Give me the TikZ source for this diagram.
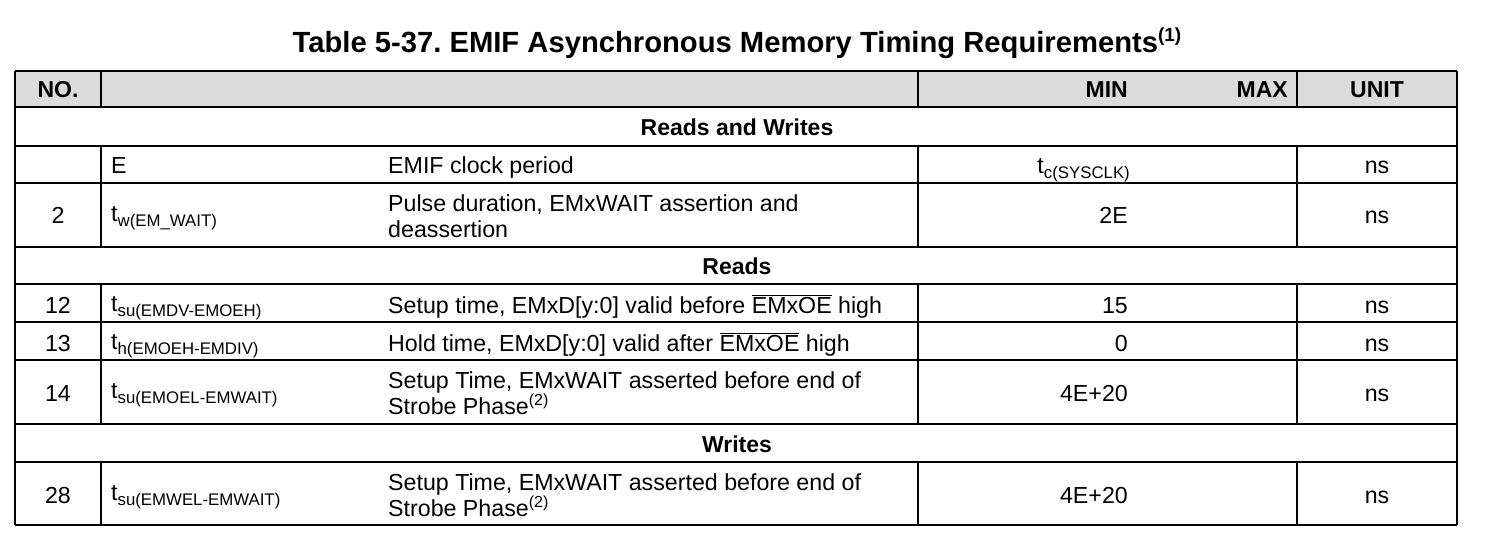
\documentclass[tikz,border=0pt]{standalone}
\usepackage{fontspec}
\setmainfont{Liberation Sans}
\frenchspacing
\newcommand{\lowsub}[1]{\raisebox{-5pt}{\fontsize{16.8}{19}\selectfont #1}}
\newcommand{\upnote}[1]{\raisebox{9pt}{\fontsize{16}{18}\selectfont #1}}
\begin{document}
\begin{tikzpicture}[x=1pt,y=-1pt,
  rule/.style={line width=1.4pt},
  cell/.style={inner sep=0pt,font=\fontsize{23.2}{27}\selectfont},
  head/.style={inner sep=0pt,font=\fontsize{23}{27}\selectfont\bfseries}]
\useasboundingbox (0,0) rectangle (1487,536);
\fill[gray!28] (15,71) rectangle (1457,107);
  \node[inner sep=0pt,anchor=base,font=\fontsize{29.2}{34}\selectfont\bfseries] (title) at (737,52)
    {Table 5-37. EMIF Asynchronous Memory Timing Requirements\raisebox{11pt}{\fontsize{19}{21}\selectfont (1)}};
  % rules
  \draw[rule] (15,71)--(1457,71) (15,107)--(1457,107) (15,146)--(1457,146) (15,183)--(1457,183);
  \draw[rule] (15,247)--(1457,247) (15,284)--(1457,284) (15,322)--(1457,322) (15,360)--(1457,360);
  \draw[rule] (15,424)--(1457,424) (15,462)--(1457,462) (15,525)--(1457,525);
  \draw[rule] (15,71)--(15,525) (1457,71)--(1457,525);
  \draw[rule] (101,71)--(101,107) (101,146)--(101,247) (101,284)--(101,424) (101,462)--(101,525);
  \draw[rule] (918,71)--(918,107) (918,146)--(918,247) (918,284)--(918,424) (918,462)--(918,525);
  \draw[rule] (1297,71)--(1297,107) (1297,146)--(1297,247) (1297,284)--(1297,424) (1297,462)--(1297,525);
  % header
  \node[head,anchor=base] (hno) at (58,97) {NO.};
  \node[head,anchor=base east] (hmin) at (1128,97) {MIN};
  \node[head,anchor=base east] (hmax) at (1288,97) {MAX};
  \node[head,anchor=base] (hunit) at (1377,97) {UNIT};
  % reads and writes
  \node[head,anchor=base] (grw) at (737,135) {Reads and Writes};
  \node[cell,anchor=base west] (sE) at (111,173) {E};
  \node[cell,anchor=base west] (dE) at (388,173) {EMIF clock period};
  \node[cell,anchor=base east] (mE) at (1130,173) {t\lowsub{c(SYSCLK)}};
  \node[cell,anchor=base] (uE) at (1377,173) {ns};
  \node[cell,anchor=base] (n2) at (58,223) {2};
  \node[cell,anchor=base west] (s2) at (111,221) {t\lowsub{w(EM\_WAIT)}};
  \node[cell,anchor=base west] (d2a) at (388,211) {Pulse duration, EMxWAIT assertion and};
  \node[cell,anchor=base west] (d2b) at (388,237) {deassertion};
  \node[cell,anchor=base east] (m2) at (1128,223) {2E};
  \node[cell,anchor=base] (u2) at (1377,223) {ns};
  % reads
  \node[head,anchor=base] (gr) at (737,274) {Reads};
  \node[cell,anchor=base] (n12) at (58,313) {12};
  \node[cell,anchor=base west] (s12) at (111,311) {t\lowsub{su(EMDV-EMOEH)}};
  \node[cell,anchor=base west] (d12) at (388,313) {Setup time, EMxD[y:0] valid before $\overline{\mbox{EMxOE}}$ high};
  \node[cell,anchor=base east] (m12) at (1128,313) {15};
  \node[cell,anchor=base] (u12) at (1377,313) {ns};
  \node[cell,anchor=base] (n13) at (58,351) {13};
  \node[cell,anchor=base west] (s13) at (111,349) {t\lowsub{h(EMOEH-EMDIV)}};
  \node[cell,anchor=base west] (d13) at (388,351) {Hold time, EMxD[y:0] valid after $\overline{\mbox{EMxOE}}$ high};
  \node[cell,anchor=base east] (m13) at (1128,351) {0};
  \node[cell,anchor=base] (u13) at (1377,351) {ns};
  \node[cell,anchor=base] (n14) at (58,401) {14};
  \node[cell,anchor=base west] (s14) at (111,398) {t\lowsub{su(EMOEL-EMWAIT)}};
  \node[cell,anchor=base west] (d14a) at (388,388) {Setup Time, EMxWAIT asserted before end of};
  \node[cell,anchor=base west] (d14b) at (388,414) {Strobe Phase\upnote{(2)}};
  \node[cell,anchor=base east] (m14) at (1128,401) {4E+20};
  \node[cell,anchor=base] (u14) at (1377,401) {ns};
  % writes
  \node[head,anchor=base] (gw) at (737,452) {Writes};
  \node[cell,anchor=base] (n28) at (58,503) {28};
  \node[cell,anchor=base west] (s28) at (111,500) {t\lowsub{su(EMWEL-EMWAIT)}};
  \node[cell,anchor=base west] (d28a) at (388,490) {Setup Time, EMxWAIT asserted before end of};
  \node[cell,anchor=base west] (d28b) at (388,516) {Strobe Phase\upnote{(2)}};
  \node[cell,anchor=base east] (m28) at (1128,503) {4E+20};
  \node[cell,anchor=base] (u28) at (1377,503) {ns};
\end{tikzpicture}
\end{document}
